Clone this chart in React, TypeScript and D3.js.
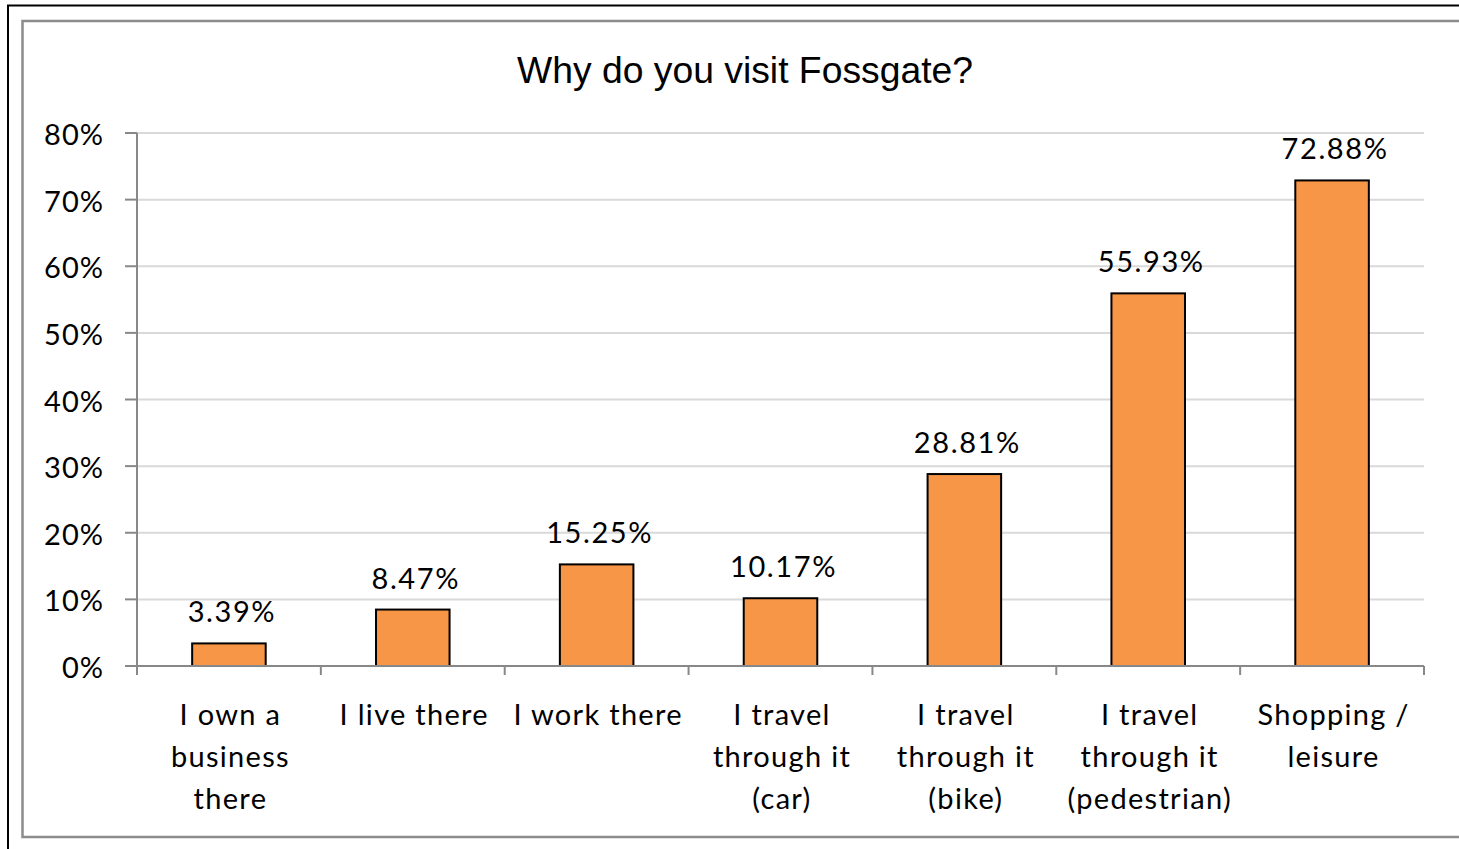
import React from "react";
import * as d3 from "d3";

const categories: string[][] = [
  ["I own a", "business", "there"],
  ["I live there"],
  ["I work there"],
  ["I travel", "through it", "(car)"],
  ["I travel", "through it", "(bike)"],
  ["I travel", "through it", "(pedestrian)"],
  ["Shopping /", "leisure"],
];
const values: number[] = [3.39, 8.47, 15.25, 10.17, 28.81, 55.93, 72.88];
const yTicks: number[] = [0, 10, 20, 30, 40, 50, 60, 70, 80];
const title = "Why do you visit Fossgate?";

const W = 1459;
const H = 849;
const plotLeft = 137;
const plotRight = 1424;
const plotTop = 133;
const plotBottom = 666;
const labelFont = "Lato, 'Open Sans', sans-serif";

export default function App() {
  const x = d3
    .scaleBand<number>()
    .domain(values.map((_, i) => i))
    .range([plotLeft, plotRight])
    .padding(0);
  const y = d3.scaleLinear().domain([0, 80]).range([plotBottom, plotTop]);
  const bw = x.bandwidth();
  const barW = bw * 0.4;

  return (
    <svg
      width={W}
      height={H}
      style={{ position: "absolute", left: 0, top: 0, background: "#fff" }}
    >
      <rect x={0} y={0} width={W} height={H} fill="#fff" />
      {/* outer black frame */}
      <rect x={8} y={5.5} width={W + 20} height={H + 20} fill="none" stroke="#000" strokeWidth={2} />
      {/* inner gray frame */}
      <rect x={22.5} y={21} width={W + 20} height={816} fill="none" stroke="#8c8c8c" strokeWidth={2.5} />

      <text
        x={745}
        y={83}
        textAnchor="middle"
        fontFamily="'Liberation Sans', Arial, sans-serif"
        fontSize={37.3}
        fill="#000"
      >
        {title}
      </text>

      {/* gridlines */}
      {yTicks
        .filter((t) => t > 0)
        .map((t) => (
          <line
            key={"g" + t}
            x1={plotLeft}
            x2={plotRight}
            y1={y(t)}
            y2={y(t)}
            stroke="#d9d9d9"
            strokeWidth={2}
          />
        ))}

      {/* y axis */}
      <line x1={plotLeft} x2={plotLeft} y1={plotTop} y2={plotBottom + 9} stroke="#888" strokeWidth={2} />
      {yTicks.map((t) => (
        <g key={"t" + t}>
          <line x1={plotLeft - 12} x2={plotLeft} y1={y(t)} y2={y(t)} stroke="#888" strokeWidth={2} />
          <text
            x={104}
            y={y(t) + 12}
            textAnchor="end"
            fontFamily={labelFont}
            fontSize={29}
            letterSpacing={1}
            fill="#000"
          >
            {t}%
          </text>
        </g>
      ))}

      {/* bars */}
      {values.map((v, i) => {
        const cx = (x(i) as number) + bw / 2;
        return (
          <g key={"b" + i}>
            <rect
              x={cx - barW / 2}
              y={y(v)}
              width={barW}
              height={plotBottom - y(v)}
              fill="#f79646"
              stroke="#000"
              strokeWidth={2}
            />
            <text
              x={cx + 3}
              y={y(v) - 21}
              textAnchor="middle"
              fontFamily={labelFont}
              fontSize={29}
              letterSpacing={1.6}
              fill="#000"
            >
              {v.toFixed(2)}%
            </text>
          </g>
        );
      })}

      {/* x axis */}
      <line x1={plotLeft} x2={plotRight} y1={plotBottom} y2={plotBottom} stroke="#888" strokeWidth={2} />
      {values.map((_, i) => (
        <line
          key={"xt" + i}
          x1={(x(i) as number) + bw}
          x2={(x(i) as number) + bw}
          y1={plotBottom}
          y2={plotBottom + 9}
          stroke="#888"
          strokeWidth={2}
        />
      ))}
      {categories.map((lines, i) => {
        const cx = (x(i) as number) + bw / 2;
        return (
          <text
            key={"c" + i}
            textAnchor="middle"
            fontFamily={labelFont}
            fontSize={29}
            letterSpacing={1.3}
            fill="#000"
          >
            {lines.map((l, j) => (
              <tspan key={j} x={cx + 1.5} y={725 + j * 42}>
                {l}
              </tspan>
            ))}
          </text>
        );
      })}
    </svg>
  );
}
